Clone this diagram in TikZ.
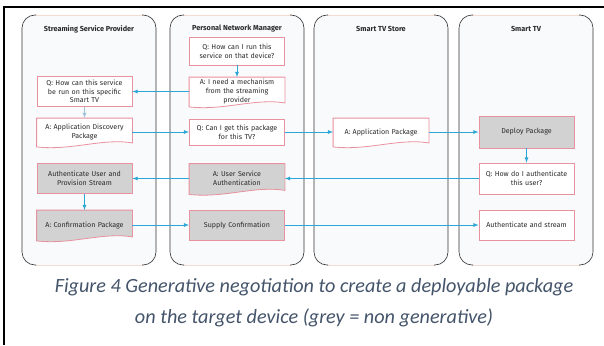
\documentclass[tikz,border=0pt]{standalone}
\usepackage{fontspec}
\setmainfont{Carlito}
\setsansfont{Fira Sans}
\usepackage{tikz}
\usetikzlibrary{arrows}

\definecolor{flowblue}{HTML}{2BA6D6}
\definecolor{paleblue}{HTML}{9CC3D8}
\definecolor{boxline}{HTML}{E8919F}
\definecolor{greybox}{HTML}{D2D2D2}
\definecolor{lanebg}{HTML}{F9FAFC}
\definecolor{laneline}{HTML}{F3DCD2}
\definecolor{captext}{HTML}{44546A}
\definecolor{boxtext}{HTML}{2A2A2A}

\pgfdeclarelayer{back}
\pgfsetlayers{back,main}

\newcommand{\boxfont}{\sffamily\fontsize{7.1}{8.6}\selectfont}

% swimlane between two x values
\newcommand{\lane}[2]{%
  \fill[lanebg,rounded corners=13] (#1,15) rectangle (#2,265);
  \draw[laneline] (#1+13,15) -- (#2-13,15);
  \draw[laneline] (#1+13,265) -- (#2-13,265);
  \draw[gray!40!black,line width=0.6pt,rounded corners=13] (#1+14,15) -- (#1,15) -- (#1,265) -- (#1+14,265);
  \draw[gray!40!black,line width=0.6pt,rounded corners=13] (#2-14,15) -- (#2,15) -- (#2,265) -- (#2-14,265);
}

% document outline with wavy bottom, behind the node text
\newcommand{\docline}[2]{%
  \begin{pgfonlayer}{back}
  \filldraw[draw=boxline,line width=0.8pt,fill=#2] (#1.north west) -- (#1.north east)
    -- ([yshift=3pt]#1.south east)
    .. controls ([xshift=-30pt,yshift=8pt]#1.south east) and ([xshift=35pt,yshift=-5pt]#1.south west) .. ([yshift=-1pt]#1.south west)
    -- cycle;
  \end{pgfonlayer}}

\begin{document}
\begin{tikzpicture}[x=1pt,y=-1pt]
      \tikzset{
        box/.style={draw=boxline,line width=0.8pt,fill=white,minimum width=95,minimum height=28,
          text width=93,align=center,inner sep=1pt,font=\boxfont,text=boxtext},
        grey/.style={box,fill=greybox},
        doc/.style={box,draw=none,fill=none},
        head/.style={font=\sffamily\bfseries\fontsize{7.3}{8.5}\selectfont,text=boxtext},
        msg/.style={->,>=latex,draw=flowblue,line width=0.8pt},
        caption/.style={font=\itshape\fontsize{20.2}{24}\selectfont,text=captext}
      }
      \useasboundingbox (0,0) rectangle (604,345);

      \begin{pgfonlayer}{back}
      \lane{22}{156}
      \lane{170}{304}
      \lane{314}{448}
      \lane{459}{593}
      \end{pgfonlayer}

      % frame
      \draw[line width=1.5pt] (4,345) -- (4,7) -- (604,7);

      \node[head] (hp) at (89,29) {Streaming Service Provider};
      \node[head] (hm) at (237,29) {Personal Network Manager};
      \node[head] (hs) at (381,29) {Smart TV Store};
      \node[head] (ht) at (526,29) {Smart TV};

      % Personal Network Manager
      \node[box] (m0) at (237,51) {Q: How can I run this\\service on that device?};
      \node[doc,minimum height=28] (m1) at (237,91.5) {A: I need a mechanism\\from the streaming\\provider};
      \node[box,minimum height=26] (m2) at (237,132) {Q: Can I get this package\\for this TV?};
      \node[doc,minimum height=29] (m3) at (237,178.5) {A: User Service\\Authentication};
      \node[grey,minimum height=30] (m4) at (237,225) {Supply Confirmation};

      % Streaming Service Provider
      \node[box,minimum height=30] (p0) at (84.5,91.5) {Q: How can this service\\be run on this specific\\Smart TV};
      \node[doc,minimum height=27] (p1) at (84.5,132) {A: Application Discovery\\Package};
      \node[grey,minimum height=30] (p2) at (84.5,178.5) {Authenticate User and\\Provision Stream};
      \node[doc,minimum height=29] (p3) at (84.5,225) {A: Confirmation Package};

      % Smart TV Store
      \node[doc,minimum height=27] (s0) at (381,132) {A: Application Package};

      % Smart TV
      \node[grey,minimum height=32] (t0) at (526.5,132) {Deploy Package};
      \node[box,minimum height=31] (t1) at (526.5,178.5) {Q: How do I authenticate\\this user?};
      \node[box,minimum height=30] (t2) at (526.5,225) {Authenticate and stream};

      \docline{m1}{white}
      \docline{m3}{greybox}
      \docline{p1}{white}
      \docline{p3}{greybox}
      \docline{s0}{white}

      \draw[msg] (m0) -- (m1);
      \draw[msg] (m1.west) -- (p0.east);
      \draw[msg,draw=paleblue] (p0) -- (p1);
      \draw[msg] (p1.east) -- (m2.west);
      \draw[msg] (m2.east) -- (s0.west);
      \draw[msg] (s0.east) -- (t0.west);
      \draw[msg] (t0) -- (t1);
      \draw[msg] (t1.west) -- (m3.east);
      \draw[msg] (m3.west) -- (p2.east);
      \draw[msg] (p2) -- (p3);
      \draw[msg] (p3.east) -- (m4.west);
      \draw[msg] (m4.east) -- (t2.west);

      \node[caption] (cap1) at (314,287) {Figure 4 Generative negotiation to create a deployable package};
      \node[caption] (cap2) at (314,318) {on the target device (grey = non generative)};

    \end{tikzpicture}
\end{document}
